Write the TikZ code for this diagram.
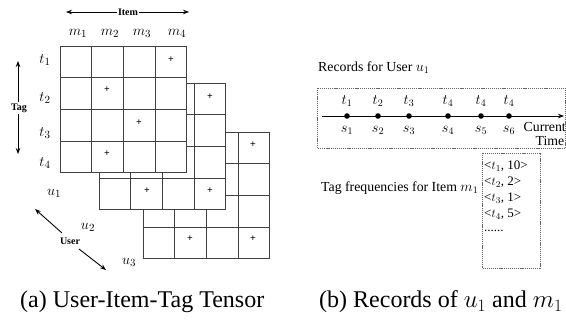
\documentclass[tikz,border=0pt]{standalone}
\usepackage{fontspec}
\setmainfont{Liberation Serif}
\usetikzlibrary{arrows.meta}
\newcommand\tgrid[2]{%
  \fill[white] (#1,#2) rectangle ++(126.8,126.8);
  \foreach \i in {0,...,4}{%
    \draw[gl] ({#1+31.7*\i},#2) -- ++(0,126.8);
    \draw[gl] (#1,{#2+31.7*\i}) -- ++(126.8,0);
  }%
}
\begin{document}
\begin{tikzpicture}[x=1pt,y=-1pt,
  gl/.style={draw=black!75,line width=0.75pt},
  pl/.style={inner sep=0pt,font=\fontsize{10}{10}\selectfont\bfseries},
  ml/.style={inner sep=0pt,font=\fontsize{15.5}{17}\selectfont},
  bl/.style={inner sep=1pt,font=\fontsize{10}{12}\selectfont\bfseries},
  arr/.style={-{Stealth[length=6pt,width=4.5pt]},line width=0.9pt},
  tl/.style={inner sep=0pt,font=\fontsize{13.8}{16}\selectfont},
  fl/.style={inner sep=0pt,font=\fontsize{13}{15}\selectfont},
  dbox/.style={draw=black!60,line width=0.5pt,dash pattern=on 1.2pt off 0.9pt},
  captxt/.style={inner sep=0pt,font=\fontsize{24}{27}\selectfont}]
\useasboundingbox (0,0) rectangle (566,320);
% tensor slices
\tgrid{143}{132}
\tgrid{99}{83}
\tgrid{60}{46}
% plus signs
\node[pl] (p11) at (171,60) {+};
\node[pl] (p12) at (107,90) {+};
\node[pl] (p13) at (139,123) {+};
\node[pl] (p14) at (107,154) {+};
\node[pl] (p21) at (210,97) {+};
\node[pl] (p22) at (147,191) {+};
\node[pl] (p23) at (210,191) {+};
\node[pl] (p31) at (253,145) {+};
\node[pl] (p32) at (190,239) {+};
\node[pl] (p33) at (253,239) {+};
% item labels
\node[ml] (m1) at (78,33) {$m_1$};
\node[ml] (m2) at (110,33) {$m_2$};
\node[ml] (m3) at (142,33) {$m_3$};
\node[ml] (m4) at (177,33) {$m_4$};
% tag labels
\node[ml] (t1) at (45,60) {$t_1$};
\node[ml] (t2) at (45,98) {$t_2$};
\node[ml] (t3) at (45,133) {$t_3$};
\node[ml] (t4) at (45,163) {$t_4$};
% user labels
\node[ml] (u1) at (54,193) {$u_1$};
\node[ml] (u2) at (88,227) {$u_2$};
\node[ml] (u3) at (129,262) {$u_3$};
% Item arrow
\node[bl] (item) at (128,12) {Item};
\coordinate (iL) at (66,12);
\coordinate (iR) at (189,12);
\draw[arr] (item.west) -- (iL);
\draw[arr] (item.east) -- (iR);
% Tag arrow
\node[bl] (tag) at (19,108) {Tag};
\coordinate (tT) at (18,61);
\coordinate (tB) at (18,154);
\draw[arr] (tag.north -| tT) -- (tT);
\draw[arr] (tag.south -| tB) -- (tB);
% User arrow
\node[bl] (user) at (70,241) {User};
\coordinate (uA) at (35,209);
\coordinate (uB) at (106,270);
\coordinate (uA0) at (62,233);
\coordinate (uB0) at (79,249);
\draw[arr] (uA0) -- (uA);
\draw[arr] (uB0) -- (uB);
% (b) records
\node[tl,anchor=west] (rec) at (318,68) {Records for User $u_1$};
\draw[dbox] (317,88) rectangle (565.5,148);
\coordinate (tl0) at (322,116);
\coordinate (tl1) at (564,116);
\draw[-{Stealth[length=6pt,width=4.5pt]},line width=0.8pt] (tl0) -- (tl1);
\foreach \x/\t/\s in {347/1/1,378/2/2,409/3/3,448/4/4,481/4/5,509/4/6}{
  \fill (\x,116) circle (2.8);
  \node[tl] at (\x,101) {$t_{\t}$};
  \node[tl] at (\x,130) {$s_{\s}$};
}
\node[tl,anchor=east] (cur) at (566,127) {Current};
\node[tl] (tim) at (550,141) {Time};
% tag frequencies
\node[tl,anchor=west] (tf) at (321,188) {Tag frequencies for Item $m_1$};
\draw[dbox] (482,153) rectangle (540,268);
\node[fl,anchor=base west] (f1) at (484,170) {<$t_1$, 10>};
\node[fl,anchor=base west] (f2) at (484,186) {<$t_2$, 2>};
\node[fl,anchor=base west] (f3) at (484,202) {<$t_3$, 1>};
\node[fl,anchor=base west] (f4) at (484,217.5) {<$t_4$, 5>};
\node[fl,anchor=base west] (f5) at (484,232) {......};
% captions
\node[captxt,anchor=base west] (capa) at (20,308) {(a) User-Item-Tag Tensor};
\node[captxt,anchor=base west] (capb) at (319,308) {(b) Records of $u_1$ and $m_1$};
\end{tikzpicture}
\end{document}
